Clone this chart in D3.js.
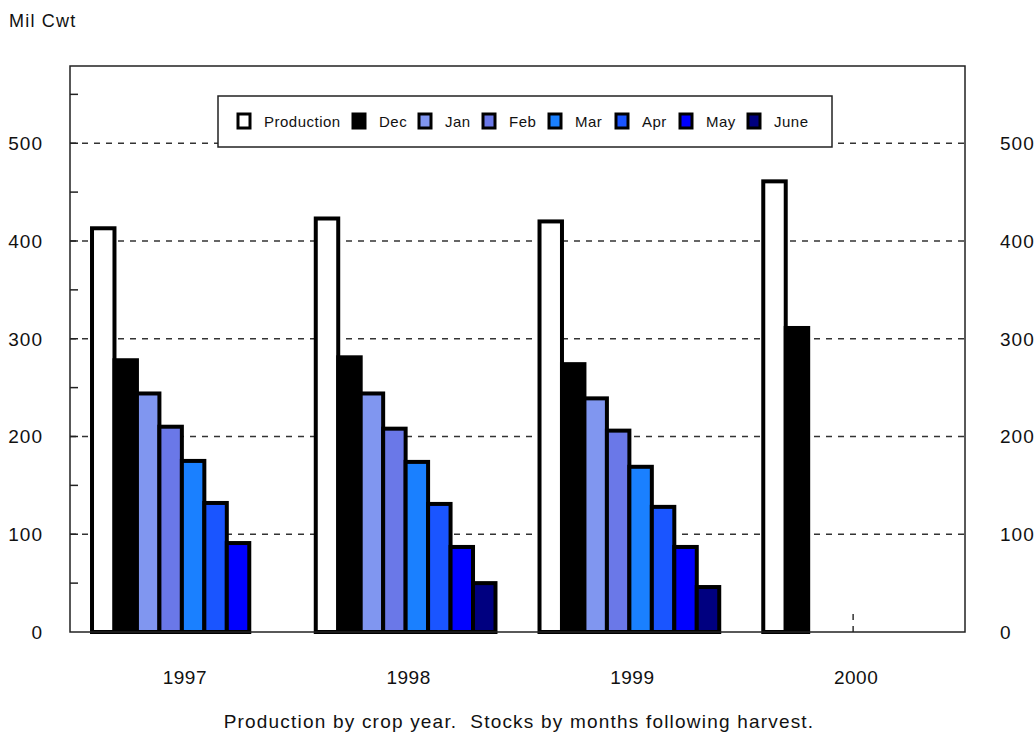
<!DOCTYPE html>
<html>
<head>
<meta charset="utf-8">
<script src="https://cdn.jsdelivr.net/npm/d3@7"></script>
<style>
  body { margin: 0; background: #fff; }
  text { font-family: "Liberation Sans", Arial, sans-serif; fill: #111; white-space: pre; }
</style>
</head>
<body>
<div id="chart"></div>
<script>
// ---- data ----
const years = ['1997', '1998', '1999', '2000'];
const seriesNames = ['Production', 'Dec', 'Jan', 'Feb', 'Mar', 'Apr', 'May', 'June'];
const seriesColors = ['#ffffff', '#000000', '#8096f0', '#6a78e8', '#1a80ff', '#1a55ff', '#0000ff', '#000080'];
const production = [413, 423, 420, 461];
const dec = [278, 281, 274, 311];
const jan = [244, 244, 239, null];
const feb = [210, 208, 206, null];
const mar = [175, 174, 169, null];
const apr = [132, 131, 128, null];
const may = [91, 87, 87, null];
const june = [null, 50, 46, null];
const yTicks = [0, 100, 200, 300, 400, 500];

const seriesValues = [production, dec, jan, feb, mar, apr, may, june];

const W = 1036, H = 734;
const m = { left: 70, right: 71, top: 66, bottom: 102 };
const pw = W - m.left - m.right;
const ph = H - m.top - m.bottom;

const svg = d3.select('#chart').append('svg')
    .attr('width', W).attr('height', H);

const g = svg.append('g').attr('transform', `translate(${m.left},${m.top})`);

const x0 = d3.scaleBand().domain(years).range([0, pw]).padding(0);
const x1 = d3.scaleBand().domain(seriesNames).range([0, x0.bandwidth()])
    .paddingOuter(0.98).paddingInner(0);
const y = d3.scaleLinear().domain([0, 579]).range([ph, 0]);

// dashed gridlines
g.append('g').selectAll('line')
    .data(yTicks.filter(d => d > 0))
    .enter().append('line')
    .attr('x1', 0).attr('x2', pw)
    .attr('y1', d => y(d)).attr('y2', d => y(d))
    .attr('stroke', '#333').attr('stroke-width', 1.5)
    .attr('stroke-dasharray', '6,6');

// category ticks (dashed, at band centre)
g.append('g').selectAll('line')
    .data(years)
    .enter().append('line')
    .attr('x1', d => x0(d) + x0.bandwidth() / 2)
    .attr('x2', d => x0(d) + x0.bandwidth() / 2)
    .attr('y1', ph).attr('y2', ph - 20)
    .attr('stroke', '#333').attr('stroke-width', 1.5)
    .attr('stroke-dasharray', '6,6');

// bars
const barData = [];
years.forEach((yr, i) => {
    seriesNames.forEach((s, j) => {
        const v = seriesValues[j][i];
        if (v != null) barData.push({ year: yr, series: s, value: v, color: seriesColors[j] });
    });
});

g.append('g').selectAll('rect')
    .data(barData)
    .enter().append('rect')
    .attr('x', d => x0(d.year) + x1(d.series))
    .attr('y', d => y(d.value))
    .attr('width', x1.bandwidth())
    .attr('height', d => ph - y(d.value))
    .attr('fill', d => d.color)
    .attr('stroke', '#000')
    .attr('stroke-width', 4);

// frame
g.append('rect')
    .attr('width', pw).attr('height', ph)
    .attr('fill', 'none').attr('stroke', '#222').attr('stroke-width', 1.5);

// minor ticks on left axis (every 50)
g.append('g').selectAll('line')
    .data(d3.range(50, 579, 50))
    .enter().append('line')
    .attr('x1', 0).attr('x2', 8)
    .attr('y1', d => y(d)).attr('y2', d => y(d))
    .attr('stroke', '#222').attr('stroke-width', 1.5);

// y labels left and right
g.append('g').selectAll('text')
    .data(yTicks)
    .enter().append('text')
    .attr('x', -27).attr('y', d => y(d)).attr('dy', '0.36em')
    .attr('text-anchor', 'end')
    .style('font-size', '19px').style('letter-spacing', '1px')
    .text(d => d);

g.append('g').selectAll('text')
    .data(yTicks)
    .enter().append('text')
    .attr('x', pw + 35).attr('y', d => y(d)).attr('dy', '0.36em')
    .attr('text-anchor', 'start')
    .style('font-size', '19px').style('letter-spacing', '1px')
    .text(d => d);

// x labels
g.append('g').selectAll('text')
    .data(years)
    .enter().append('text')
    .attr('x', d => x0(d) + x0.bandwidth() / 2 + 3)
    .attr('y', ph + 52)
    .attr('text-anchor', 'middle')
    .style('font-size', '19px').style('letter-spacing', '0.5px')
    .text(d => d);

// unit label and caption
svg.append('text')
    .attr('x', 9).attr('y', 27)
    .style('font-size', '18px').style('letter-spacing', '1.2px')
    .text('Mil Cwt');

svg.append('text')
    .attr('x', 519).attr('y', 728)
    .attr('text-anchor', 'middle')
    .style('font-size', '19px').style('letter-spacing', '1.2px')
    .text('Production by crop year.  Stocks by months following harvest.');

// legend
const legend = svg.append('g').attr('transform', 'translate(218,96)');
legend.append('rect')
    .attr('width', 614).attr('height', 51)
    .attr('fill', '#fff').attr('stroke', '#222').attr('stroke-width', 1.5);

const legendX = [20, 135, 201, 265, 331, 398, 462, 530];
seriesNames.forEach((s, j) => {
    const item = legend.append('g').attr('transform', `translate(${legendX[j]},18)`);
    item.append('rect')
        .attr('width', 12).attr('height', 14)
        .attr('fill', seriesColors[j])
        .attr('stroke', '#000').attr('stroke-width', 3);
    item.append('text')
        .attr('x', 26).attr('y', 13)
        .style('font-size', '15px').style('letter-spacing', '0.5px')
        .text(s);
});
</script>
</body>
</html>
